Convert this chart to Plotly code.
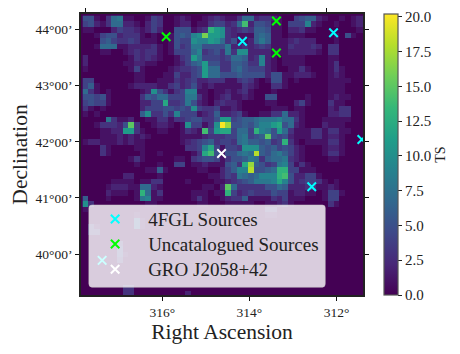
import plotly.graph_objects as go

ts_grid = [
[5,5,1,0,3,7,8,1,1,0,0,1,4,3,0,0,1,2,1,0,0,1,2,3,2,1,1,3,7,7,2,3,3,2,1,0,0,4,5,6,6,2,1,0,0,1,0,1,2,2],
[4,5,2,1,3,7,7,2,2,1,0,2,4,3,0,0,1,2,2,0,1,1,3,4,4,2,3,7,14,2,5,5,4,1,1,0,4,4,4,9,2,1,0,0,1,0,0,1,2,2],
[1,1,0,0,0,2,4,3,3,2,1,2,4,2,0,0,5,5,5,1,2,3,13,11,10,3,2,3,4,3,6,6,5,1,1,0,2,2,3,1,1,0,0,0,0,0,0,0,1,1],
[0,0,1,4,5,5,2,3,3,3,1,0,1,0,0,1,5,6,5,9,10,16,11,11,10,3,2,1,1,1,6,7,6,1,1,0,1,1,1,0,0,0,0,0,1,0,5,1,0,0],
[0,0,0,5,6,4,3,3,4,3,1,1,1,0,0,1,5,4,4,10,9,9,11,10,7,3,5,1,1,2,6,8,6,1,1,1,2,3,2,2,2,0,0,0,1,0,0,0,0,0],
[0,0,1,7,7,7,1,1,2,2,2,2,3,1,0,1,5,3,4,8,8,5,5,5,5,8,2,2,3,2,3,4,3,1,1,1,3,2,2,2,3,2,0,3,3,0,0,0,0,0],
[0,0,0,1,1,0,0,1,2,3,2,3,3,1,0,1,4,4,4,7,9,3,4,5,3,8,3,10,10,2,2,2,2,1,1,1,2,2,2,2,2,1,0,3,3,0,0,0,0,0],
[2,0,0,0,0,0,0,0,1,3,2,3,2,1,0,0,1,3,4,11,8,4,4,4,3,4,7,7,6,2,3,9,2,1,0,1,1,1,1,0,0,0,0,1,1,0,0,0,0,0],
[2,0,0,0,0,0,0,1,1,2,2,1,1,0,0,0,1,2,4,6,7,11,5,5,3,3,6,6,5,3,3,9,2,1,0,1,1,1,1,0,0,0,0,1,3,0,0,0,0,0],
[1,0,0,0,0,0,0,0,1,4,1,0,0,0,0,1,2,3,3,4,5,11,7,7,3,3,6,7,5,4,4,4,2,1,0,0,1,1,3,1,0,0,0,1,3,1,0,0,0,0],
[0,0,0,0,0,0,0,0,0,1,1,0,0,0,1,1,4,2,2,4,5,11,7,7,5,5,5,6,5,5,5,5,2,5,5,1,1,2,2,2,1,0,0,1,2,1,0,0,0,0],
[4,4,0,0,0,0,0,0,0,1,1,0,0,1,1,1,3,2,3,4,2,2,3,3,3,1,1,3,4,3,1,0,1,5,5,1,0,1,0,0,0,0,0,1,1,1,1,0,0,0],
[4,6,1,0,0,0,0,0,1,2,2,2,2,1,1,3,4,2,3,5,2,1,2,1,1,1,1,1,3,2,1,0,0,3,3,1,0,0,0,0,0,0,0,1,1,1,0,0,0,0],
[7,3,1,0,1,0,0,0,0,0,1,2,10,5,3,1,3,4,9,9,1,1,0,1,1,2,1,2,3,1,0,0,0,1,0,0,0,0,0,0,0,0,0,1,1,1,0,0,0,0],
[5,5,4,5,1,0,0,0,0,0,3,6,5,7,7,4,4,4,8,8,3,1,0,1,2,3,1,1,2,1,0,0,5,5,0,0,0,0,0,1,0,0,0,1,2,1,1,0,0,0],
[4,5,4,4,1,0,0,0,0,0,2,2,4,4,12,3,3,4,8,5,2,1,0,2,3,2,2,1,0,0,0,0,1,1,0,0,0,2,4,1,0,0,0,3,1,1,0,0,0,0],
[3,1,0,1,0,0,0,0,0,0,2,4,4,4,5,5,4,5,4,10,4,3,3,4,1,1,2,1,0,0,0,0,0,1,1,1,0,1,1,0,0,0,0,2,1,3,3,0,0,0],
[1,0,1,0,0,0,0,0,0,0,6,10,3,3,5,3,9,4,4,4,1,2,3,6,2,2,3,4,1,0,0,1,1,3,3,7,2,2,1,0,0,0,0,2,2,3,3,0,0,0],
[0,0,0,0,8,3,1,1,2,0,0,1,1,3,3,1,3,3,4,5,5,3,3,5,11,11,4,5,6,6,7,8,8,8,9,7,7,3,1,0,0,0,1,1,1,1,1,0,0,0],
[0,0,1,3,3,3,2,5,15,3,0,0,1,2,2,1,0,1,10,4,4,1,3,10,20,17,5,5,6,5,7,9,9,11,12,5,7,2,1,0,0,0,2,1,1,1,0,0,0,0],
[0,0,0,1,1,2,2,11,11,3,1,0,0,1,1,0,0,1,3,2,1,14,4,11,12,12,4,7,7,4,13,9,8,5,11,7,3,1,1,1,3,3,1,3,3,1,1,0,0,0],
[0,0,0,1,1,1,2,1,2,1,2,1,0,0,0,0,0,1,1,1,1,2,3,3,3,4,4,7,8,4,5,6,15,5,4,5,2,1,1,1,3,3,1,2,2,1,0,0,0,0],
[1,2,2,1,1,1,2,1,2,1,1,0,0,0,0,0,0,1,2,3,4,5,6,3,4,4,3,7,8,6,6,5,6,3,4,13,3,1,0,1,1,1,1,3,3,1,0,0,0,0],
[0,0,0,3,1,0,0,0,0,1,1,0,0,0,0,0,0,0,3,3,4,9,12,4,1,4,4,3,10,10,10,6,5,6,4,5,4,2,1,0,0,0,1,2,2,1,0,0,0,0],
[0,0,0,3,1,0,0,0,0,0,1,0,0,1,0,0,0,0,0,1,3,12,14,5,1,5,5,7,8,7,18,6,5,7,8,6,4,2,1,0,0,0,1,3,3,1,0,0,0,0],
[0,0,0,0,0,0,0,0,1,3,1,0,0,0,0,0,1,1,0,3,4,5,5,4,1,3,5,5,6,8,7,3,6,7,7,8,3,2,1,0,0,0,0,1,1,0,0,0,0,0],
[0,0,0,0,0,0,0,0,0,1,0,0,0,1,0,0,4,4,0,1,1,2,1,1,1,5,6,3,12,17,6,5,3,4,8,9,4,1,3,1,0,0,0,0,0,0,0,0,0,0],
[0,0,0,0,0,0,0,0,0,0,0,1,1,6,1,0,0,0,0,0,1,1,0,0,2,4,6,9,9,18,5,5,6,7,13,13,4,4,1,1,1,0,0,0,0,0,0,0,0,0],
[0,0,0,0,0,0,0,2,2,0,0,0,0,1,0,0,0,0,0,0,0,0,1,1,2,4,3,8,7,6,7,9,9,9,13,14,5,2,2,4,4,1,0,0,0,0,0,0,0,0],
[0,0,0,0,0,1,1,1,1,0,1,1,3,3,0,0,0,0,1,0,0,0,0,1,1,2,3,4,5,6,8,8,8,9,12,9,5,2,3,4,4,3,1,0,1,0,0,0,0,0],
[0,0,0,0,1,2,2,2,1,1,7,7,2,1,0,0,0,0,0,0,0,1,1,0,2,15,7,3,3,3,3,3,5,5,7,6,2,2,2,3,3,1,1,2,1,0,0,0,0,0],
[0,0,0,0,2,1,1,1,0,1,13,7,1,3,0,0,0,0,0,1,1,1,0,1,1,13,4,2,3,4,3,3,3,5,4,4,1,2,2,1,1,0,1,4,4,1,0,0,0,0],
[6,0,0,0,1,0,0,0,0,1,8,9,1,1,0,0,0,0,0,1,3,1,0,0,1,2,3,3,6,1,1,1,1,3,2,4,1,1,1,0,0,0,1,4,4,0,0,0,0,0],
[10,3,0,0,0,0,0,0,0,0,0,1,1,0,0,0,0,0,0,0,1,1,0,0,0,1,1,1,1,1,0,0,1,1,2,3,1,0,0,0,0,0,0,3,1,0,0,0,0,0],
[1,0,0,0,0,0,0,0,0,0,0,0,0,0,0,0,0,0,0,0,0,0,0,0,0,0,0,0,0,0,0,0,3,3,0,0,0,0,0,0,0,0,0,0,0,0,0,0,0,0],
[0,0,0,0,0,0,0,0,0,1,0,0,0,0,0,0,0,0,0,0,0,0,0,0,0,0,0,0,0,0,0,0,1,1,0,0,0,0,0,0,0,0,0,0,0,0,0,0,0,0],
[0,0,0,0,0,0,0,0,0,5,1,0,0,0,0,0,0,0,0,0,0,0,0,0,0,0,0,0,0,0,0,0,0,0,0,0,0,0,0,0,0,0,0,0,0,0,0,0,0,0],
[0,3,1,0,0,0,0,0,0,5,1,0,0,0,0,0,0,0,0,0,0,0,0,0,0,0,0,0,0,0,0,0,0,0,0,0,0,0,0,0,0,0,0,0,0,0,0,0,0,0],
[0,3,3,0,0,0,0,0,0,0,0,0,0,0,0,0,0,0,0,0,0,0,0,0,0,0,0,0,0,0,0,0,0,0,0,0,0,0,0,0,0,0,0,0,0,0,0,0,0,0],
[0,0,0,0,0,0,0,0,0,0,0,0,0,0,0,0,0,0,0,0,0,0,0,0,0,0,0,0,0,0,0,0,0,0,0,0,0,0,0,0,0,0,0,0,0,0,0,0,0,0],
[0,0,0,0,0,0,3,0,0,0,0,0,0,0,0,0,0,0,0,0,0,0,0,0,0,0,0,0,0,0,0,0,0,0,0,0,0,0,0,0,0,0,0,0,0,0,0,0,0,0],
[0,0,0,0,0,0,4,0,0,0,0,0,0,0,0,0,0,0,0,0,0,0,0,0,0,0,0,0,0,0,0,0,0,0,0,0,0,0,0,0,0,0,0,0,0,0,0,0,0,0],
[0,0,0,0,0,0,4,1,0,0,0,0,0,0,0,0,0,0,0,0,0,0,0,0,0,0,0,0,0,0,0,0,0,0,0,0,0,0,0,0,0,0,0,0,0,0,0,0,0,0],
[0,0,0,0,0,0,3,0,0,0,0,0,0,0,0,0,0,0,0,0,0,0,0,0,0,0,0,0,0,0,0,0,0,0,0,0,0,0,0,0,0,0,0,0,0,0,0,0,0,0],
[0,0,0,0,0,0,0,0,0,0,0,0,0,0,0,0,0,0,0,0,0,0,0,0,0,0,0,0,0,0,0,0,0,0,0,0,0,0,0,0,0,0,0,0,0,0,0,0,0,0],
[0,0,0,0,0,0,0,0,0,0,0,0,0,0,0,0,0,0,0,0,0,0,0,0,0,0,0,0,0,0,0,0,0,0,0,0,0,0,0,0,0,0,0,0,0,0,0,0,0,0],
[0,0,0,0,0,0,0,0,0,0,0,0,0,0,0,0,0,0,0,0,0,0,0,0,0,0,0,0,0,0,0,0,0,0,0,0,0,0,0,0,0,0,0,0,0,0,0,0,0,0],
[0,0,0,0,0,0,0,0,0,0,0,0,0,0,0,0,0,0,0,0,0,0,0,0,0,0,0,0,0,0,0,0,0,0,0,0,0,0,0,0,0,0,0,0,0,0,0,0,0,0],
[0,0,0,0,0,0,0,3,3,0,0,0,0,0,0,0,0,0,0,0,0,0,0,0,0,0,0,0,0,0,0,0,0,0,0,0,0,0,0,0,0,0,0,0,0,0,0,0,0,0],
[0,0,0,0,0,0,0,3,3,0,0,0,0,0,0,0,0,0,2,0,0,0,0,0,0,0,0,0,0,0,0,0,0,0,0,0,0,0,0,0,0,0,0,0,0,0,0,0,0,0],
]

ra_first, ra_step = 317.760, -0.13057
dec_first, dec_step = 44.1933, -0.1
ra_centres = [ra_first + ra_step * i for i in range(50)]
dec_centres = [dec_first + dec_step * j for j in range(50)]

fgl_ra = [314.16, 312.07, 311.42, 312.57, 317.38]
fgl_dec = [43.79, 43.94, 42.04, 41.20, 39.89]
unc_ra = [315.91, 313.38, 313.38]
unc_dec = [43.87, 44.15, 43.58]
gro_ra = [314.64]
gro_dec = [41.79]

ra_ticks = [316, 314, 312]
ra_labels = ["316°", "314°", "312°"]
ra_top_ticks = [317.75, 315.89, 314.05, 312.22]
dec_ticks = [44, 43, 42, 41, 40]
dec_labels = ["44°00’", "43°00’", "42°00’", "41°00’", "40°00’"]
cbar_ticks = [0, 2.5, 5, 7.5, 10, 12.5, 15, 17.5, 20]
cbar_labels = ["0.0", "2.5", "5.0", "7.5", "10.0", "12.5", "15.0", "17.5", "20.0"]

SERIF = "Liberation Serif"
XR = [317.8646, 311.3938]
YR = [39.2735, 44.2735]

fig = go.Figure()
fig.add_trace(go.Heatmap(
    x=ra_centres, y=dec_centres, z=ts_grid, colorscale="Viridis", zmin=0, zmax=20.2,
    showlegend=False, hoverinfo="skip",
    colorbar=dict(
        x=1.0745, xanchor="left", xpad=0, y=0.5, yanchor="middle", ypad=0, len=1, lenmode="fraction",
        thickness=14, thicknessmode="pixels", outlinecolor="#555555", outlinewidth=1.2,
        tickmode="array", tickvals=cbar_ticks, ticktext=cbar_labels, ticks="outside", ticklen=4,
        tickcolor="#222222", tickfont=dict(family=SERIF, size=15, color="#222222"),
        title=dict(text="TS", side="right", font=dict(family=SERIF, size=14, color="#222222")),
    ),
))


def sources(name, xs, ys, colour):
    fig.add_trace(go.Scatter(
        x=xs, y=ys, mode="markers", legendgroup=name,
        name='<span style="font-size:19px">' + name + "</span>",
        marker=dict(symbol="x-thin", size=8.5, color=colour, line=dict(color=colour, width=2)),
        hoverinfo="skip",
    ))


sources("4FGL Sources", fgl_ra, fgl_dec, "#00ffff")
sources("Uncatalogued Sources", unc_ra, unc_dec, "#00ff00")
sources("GRO J2058+42", gro_ra, gro_dec, "#ffffff")
fig.add_trace(go.Scatter(x=[None], y=[None], xaxis="x2", showlegend=False, hoverinfo="skip"))

axis_common = dict(showgrid=False, zeroline=False, showline=True, linecolor="#222222", linewidth=1.6,
                   ticks="outside", ticklen=4, tickwidth=1.2, tickcolor="#111111", automargin=False)
fig.update_layout(
    width=452, height=346, margin=dict(l=73, r=97, t=6, b=59, autoexpand=False),
    paper_bgcolor="white", plot_bgcolor="#440154",
    xaxis=dict(range=XR, tickmode="array", tickvals=ra_ticks, ticktext=ra_labels,
               tickfont=dict(family=SERIF, size=13.5, color="#222222"),
               title=dict(text="Right Ascension", font=dict(family=SERIF, size=21.5, color="#222222"), standoff=5),
               **axis_common),
    xaxis2=dict(range=XR, overlaying="x", side="top", anchor="y", tickmode="array",
                tickvals=ra_top_ticks, ticktext=["", "", "", ""], **axis_common),
    yaxis=dict(range=YR, tickmode="array", tickvals=dec_ticks, ticktext=dec_labels, mirror="allticks",
               tickfont=dict(family=SERIF, size=13.5, color="#222222"),
               title=dict(text="Declination", font=dict(family=SERIF, size=21.5, color="#222222"), standoff=15),
               **axis_common),
    legend=dict(x=0.004, y=0.333, xanchor="left", yanchor="top", bgcolor="rgba(0,0,0,0)", borderwidth=0,
                font=dict(family=SERIF, size=17, color="#222222"), tracegroupgap=0, itemwidth=56),
    shapes=[dict(type="path", xref="x domain", yref="y domain", layer="above",
                 path="M 0.039 0.32 L 0.856 0.32 Q 0.866 0.32 0.866 0.31 L 0.866 0.04 Q 0.866 0.028 0.856 0.028 "
                      "L 0.039 0.028 Q 0.028 0.028 0.028 0.04 L 0.028 0.31 Q 0.028 0.32 0.039 0.32 Z",
                 fillcolor="rgba(255,255,255,0.8)", line=dict(color="rgba(204,204,204,0.6)", width=1))],
)
fig.write_html("out.html")
